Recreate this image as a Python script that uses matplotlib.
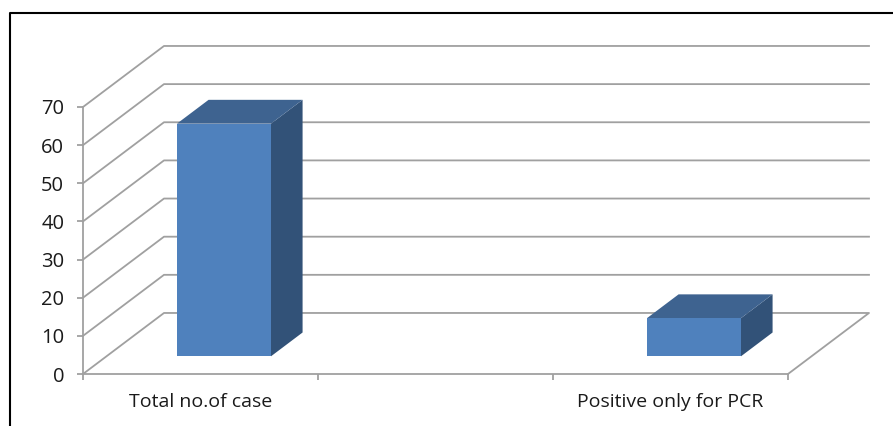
import matplotlib
matplotlib.use("Agg")
import matplotlib.pyplot as plt
from matplotlib.lines import Line2D
from matplotlib.patches import Polygon

plt.rcParams['font.family'] = ['Open Sans', 'DejaVu Sans']

categories = ["Total no.of case", "", "Positive only for PCR"]
values = [61, None, 10]
y_ticks = [0, 10, 20, 30, 40, 50, 60, 70]

GRID = '#a0a0a0'
FRONT = '#4f81bd'
TOP = '#3e6390'
SIDE = '#325278'

W, H = 893, 426
fig = plt.figure(figsize=(W / 100, H / 100), dpi=100)
ax = fig.add_axes([83 / W, 1 - 374 / H, (788 - 83) / W, (374 - 107) / H])
ax.set_xlim(0, len(categories))
ax.set_ylim(0, 70)
ax.patch.set_visible(False)

# how far the back wall sits from the front plane, in data units
depth_x = 81 / 235
depth_y = 16.0


def proj(x, y, d=0.0):
    return (x + d * depth_x, y + d * depth_y)


# floor and wall lines
for v in y_ticks:
    pts = [proj(0, v), proj(0, v, 1), proj(len(categories), v, 1)]
    if v == 0:
        pts.append(proj(len(categories), v))
    xs, ys = zip(*pts)
    ax.plot(xs, ys, color=GRID, lw=1.3, clip_on=False, zorder=1)

# 3d bars
bar_w = 0.4
d0, d1 = 0.29, 0.68
for i, v in enumerate(values):
    if v is None:
        continue
    x0 = i + 0.5 - bar_w / 2
    x1 = i + 0.5 + bar_w / 2
    front = [proj(x0, 0, d0), proj(x1, 0, d0), proj(x1, v, d0), proj(x0, v, d0)]
    side = [proj(x1, 0, d0), proj(x1, 0, d1), proj(x1, v, d1), proj(x1, v, d0)]
    top = [proj(x0, v, d0), proj(x1, v, d0), proj(x1, v, d1), proj(x0, v, d1)]
    ax.add_patch(Polygon(side, closed=True, fc=SIDE, ec='none', clip_on=False, zorder=3))
    ax.add_patch(Polygon(top, closed=True, fc=TOP, ec='none', clip_on=False, zorder=3))
    ax.add_patch(Polygon(front, closed=True, fc=FRONT, ec='none', clip_on=False, zorder=4))

for s in ['top', 'right']:
    ax.spines[s].set_visible(False)
for s in ['left', 'bottom']:
    ax.spines[s].set_color(GRID)
    ax.spines[s].set_linewidth(1.3)

ax.set_yticks(y_ticks)
ax.set_xticks(range(len(categories) + 1))
ax.set_xticklabels([])
ax.set_xticks([i + 0.5 for i in range(len(categories))], labels=categories, minor=True)
ax.tick_params(axis='x', which='minor', length=0, pad=14, labelsize=14, labelcolor='#1a1a1a')
ax.tick_params(axis='x', which='major', length=4.5, width=1.3, color=GRID)
ax.tick_params(axis='y', length=4.5, width=1.3, color=GRID, pad=9, labelsize=14.5, labelcolor='#1a1a1a')

# black frame round the picture, left and top only
fig.add_artist(Line2D([10 / W, 10 / W, 1], [0, 1 - 13 / H, 1 - 13 / H], color='black', lw=1.5))

fig.savefig("out.png", dpi=100)
